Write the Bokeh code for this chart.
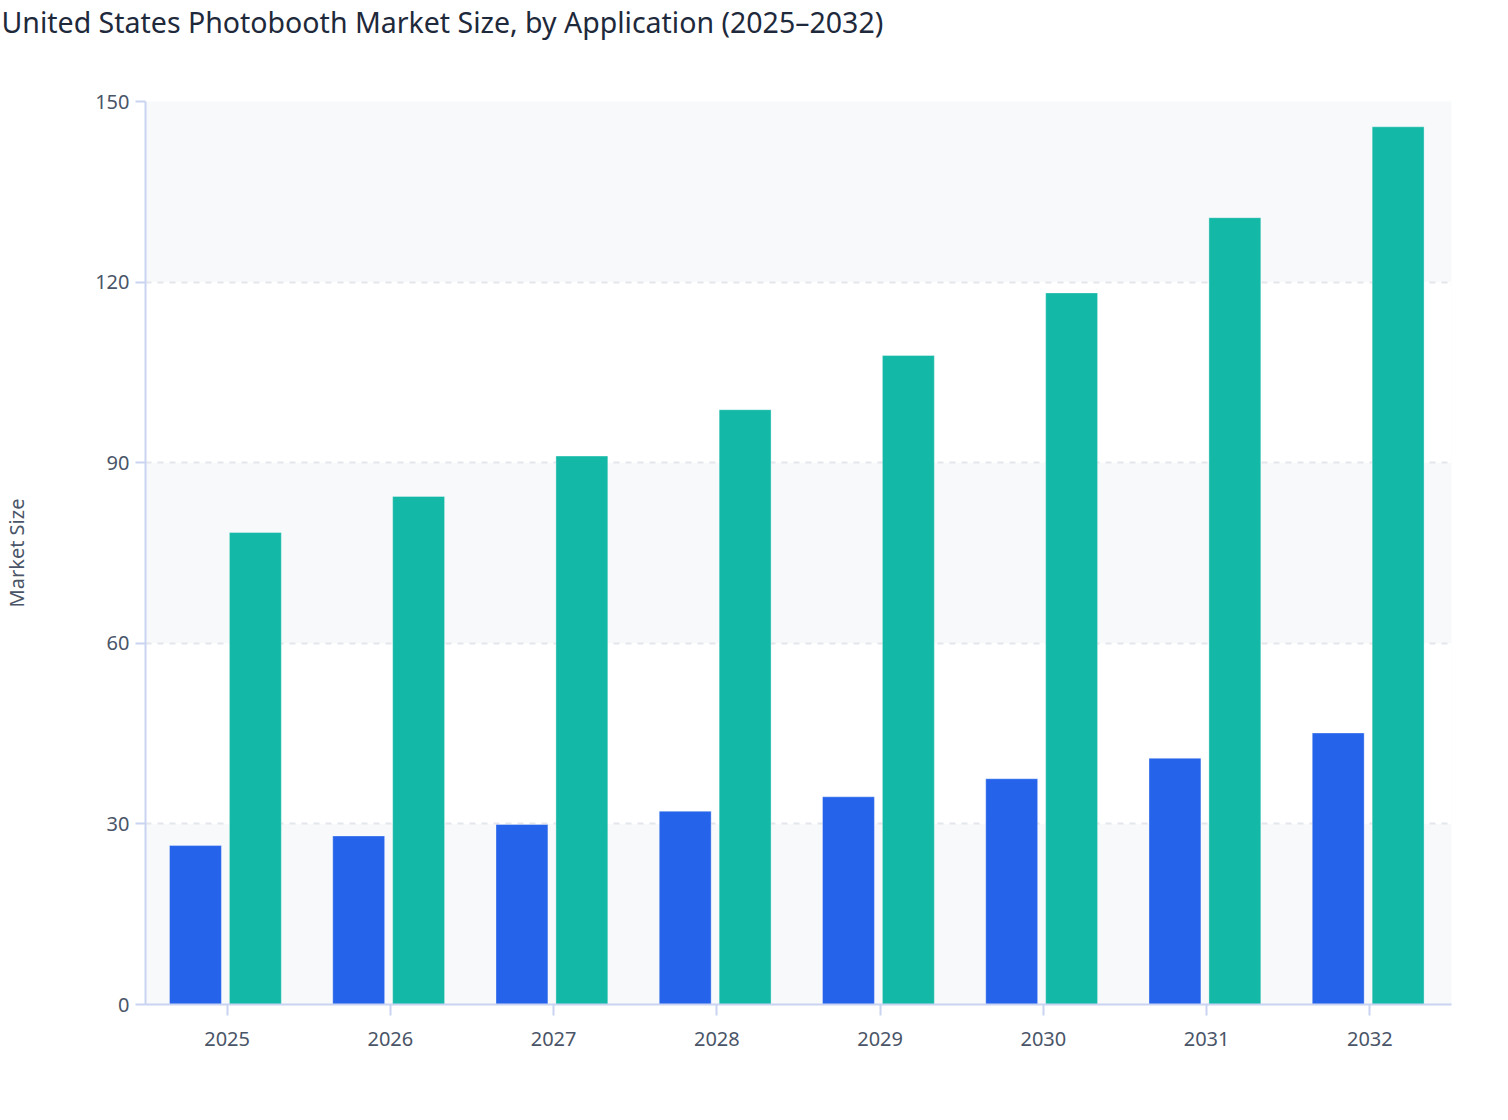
from bokeh.plotting import figure
from bokeh.models import ColumnDataSource, FactorRange, Range1d, FixedTicker, Title
from bokeh.transform import dodge
from bokeh.embed import file_html
from bokeh.resources import INLINE

# data
years = ["2025", "2026", "2027", "2028", "2029", "2030", "2031", "2032"]
series_a = [26.4, 28.0, 29.9, 32.1, 34.5, 37.5, 40.9, 45.1]
series_b = [78.4, 84.4, 91.1, 98.8, 107.8, 118.2, 130.7, 145.8]
y_ticks = [0, 30, 60, 90, 120, 150]
chart_title = "United States Photobooth Market Size, by Application (2025\u20132032)"

source = ColumnDataSource(data=dict(year=years, a=series_a, b=series_b))

font = "Noto Sans"
axis_col = "#c9d3f2"
text_col = "#4a5568"

p = figure(
    x_range=FactorRange(*years, range_padding=0),
    y_range=Range1d(0, 150),
    width=1500,
    height=1100,
    min_border_left=144,
    min_border_right=49,
    min_border_top=0,
    min_border_bottom=96,
    toolbar_location=None,
    output_backend="svg",
)

# bars
p.vbar(x=dodge("year", -0.194, range=p.x_range), top="a", width=0.318, source=source,
       fill_color="#2563eb", line_color="white", line_alpha=0.35, line_width=1)
p.vbar(x=dodge("year", 0.173, range=p.x_range), top="b", width=0.318, source=source,
       fill_color="#14b8a6", line_color="white", line_alpha=0.35, line_width=1)

# spacer between title and plot, then the title itself (outermost)
p.add_layout(Title(text=" ", text_font_size="1px", standoff=58), "above")
p.add_layout(Title(text=chart_title, text_font=font, text_font_size="28.5px",
                   text_font_style="normal", text_color="#1e293b",
                   align="left", offset=-144, standoff=0), "above")

# frame / grid (alternating bands: grey from 0, white between)
p.outline_line_color = None
p.background_fill_color = "#f8f9fb"
p.xgrid.grid_line_color = None
p.ygrid.grid_line_color = "#e3e6eb"
p.ygrid.grid_line_dash = "6 6"
p.ygrid.grid_line_width = 1.8
p.ygrid.band_fill_color = "white"
p.ygrid.band_fill_alpha = 1.0

# y axis
p.yaxis.ticker = FixedTicker(ticks=y_ticks)
p.yaxis.axis_label = "Market Size"
p.yaxis.axis_label_standoff = 62
p.yaxis.axis_label_text_font = font
p.yaxis.axis_label_text_font_size = "20px"
p.yaxis.axis_label_text_font_style = "normal"
p.yaxis.axis_label_text_color = text_col
p.yaxis.major_label_text_font = font
p.yaxis.major_label_text_font_size = "20px"
p.yaxis.major_label_text_color = text_col
p.yaxis.major_label_standoff = 6
p.yaxis.minor_tick_line_color = None
p.yaxis.major_tick_in = 0
p.yaxis.major_tick_out = 10

# x axis
p.xaxis.major_label_text_font = font
p.xaxis.major_label_text_font_size = "20px"
p.xaxis.major_label_text_color = text_col
p.xaxis.major_label_standoff = 16
p.xaxis.major_tick_in = 0
p.xaxis.major_tick_out = 11

for ax in (p.xaxis, p.yaxis):
    ax.axis_line_color = axis_col
    ax.axis_line_width = 2
    ax.major_tick_line_color = axis_col
    ax.major_tick_line_width = 2

open("out.html", "w").write(file_html(p, INLINE))
